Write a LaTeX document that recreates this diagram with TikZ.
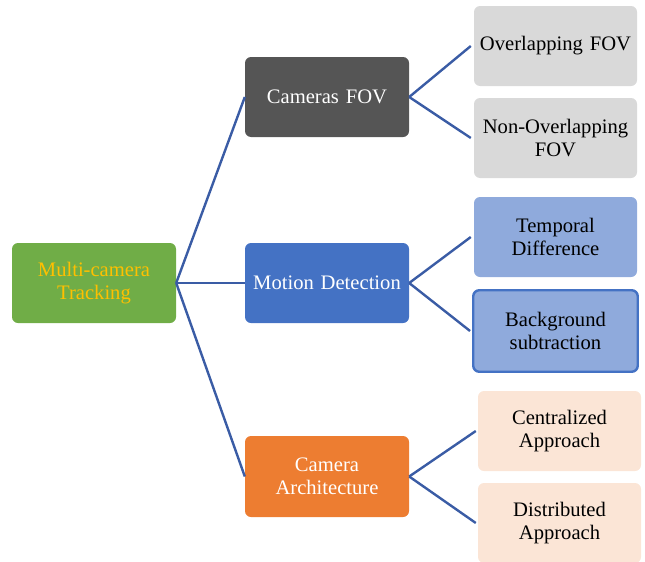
\documentclass[tikz,border=0pt]{standalone}
\usepackage{fontspec}
\setmainfont{Liberation Serif}
\begin{document}
\definecolor{rootgreen}{HTML}{70AD47}
\definecolor{rootgold}{HTML}{FFC000}
\definecolor{darkgray}{HTML}{555555}
\definecolor{midblue}{HTML}{4472C4}
\definecolor{orangebox}{HTML}{ED7D31}
\definecolor{lightgray}{HTML}{D9D9D9}
\definecolor{paleblue}{HTML}{8FAADC}
\definecolor{peach}{HTML}{FBE5D6}
\definecolor{linkblue}{HTML}{3A5CA5}
\begin{tikzpicture}[x=1pt,y=-1pt,
  box/.style={rounded corners=6pt, minimum width=164pt, minimum height=80pt,
    inner sep=0pt, align=center, text width=162pt,
    font=\fontsize{20.6}{22.5}\selectfont},
  link/.style={draw=linkblue, line width=2.4pt}]
\useasboundingbox (0,0) rectangle (645,562);
\clip (0,0) rectangle (645,562);

% root
\node[box, fill=rootgreen, text=rootgold] (root) at (94,283) {Multi-camera\\Tracking};

% second level
\node[box, fill=darkgray, text=white] (cam) at (327,97) {Cameras FOV};
\node[box, fill=midblue, text=white] (mot) at (327,283) {Motion Detection};
\node[box, fill=orangebox, text=white, minimum height=81pt] (arch) at (327,476.5) {Camera\\Architecture};

% leaves
\node[box, fill=lightgray, minimum width=163pt] (ov) at (555.5,46) {Overlapping FOV};
\node[box, fill=lightgray, minimum width=163pt] (nov) at (555.5,138) {Non-Overlapping\\FOV};
\node[box, fill=paleblue, minimum width=163pt] (tmp) at (555.5,237) {Temporal\\Difference};
\node[box, fill=paleblue, draw=midblue, line width=2.4pt, minimum width=164.5pt, minimum height=81.5pt] (bg) at (555.5,331) {Background\\subtraction};
\node[box, fill=peach, minimum width=163pt] (cen) at (559.5,431) {Centralized\\Approach};
\node[box, fill=peach, minimum width=163pt] (dis) at (559.5,523) {Distributed\\Approach};

% connectors
\draw[link] (root.east) -- (cam.west);
\draw[link] (root.east) -- (mot.west);
\draw[link] (root.east) -- (arch.west);
\draw[link] (cam.east) -- ([xshift=-3pt]ov.west);
\draw[link] (cam.east) -- ([xshift=-3pt]nov.west);
\draw[link] (mot.east) -- ([xshift=-3pt]tmp.west);
\draw[link] (mot.east) -- ([xshift=-2pt]bg.west);
\draw[link] (arch.east) -- ([xshift=-2pt]cen.west);
\draw[link] (arch.east) -- ([xshift=-2pt]dis.west);
\end{tikzpicture}
\end{document}
